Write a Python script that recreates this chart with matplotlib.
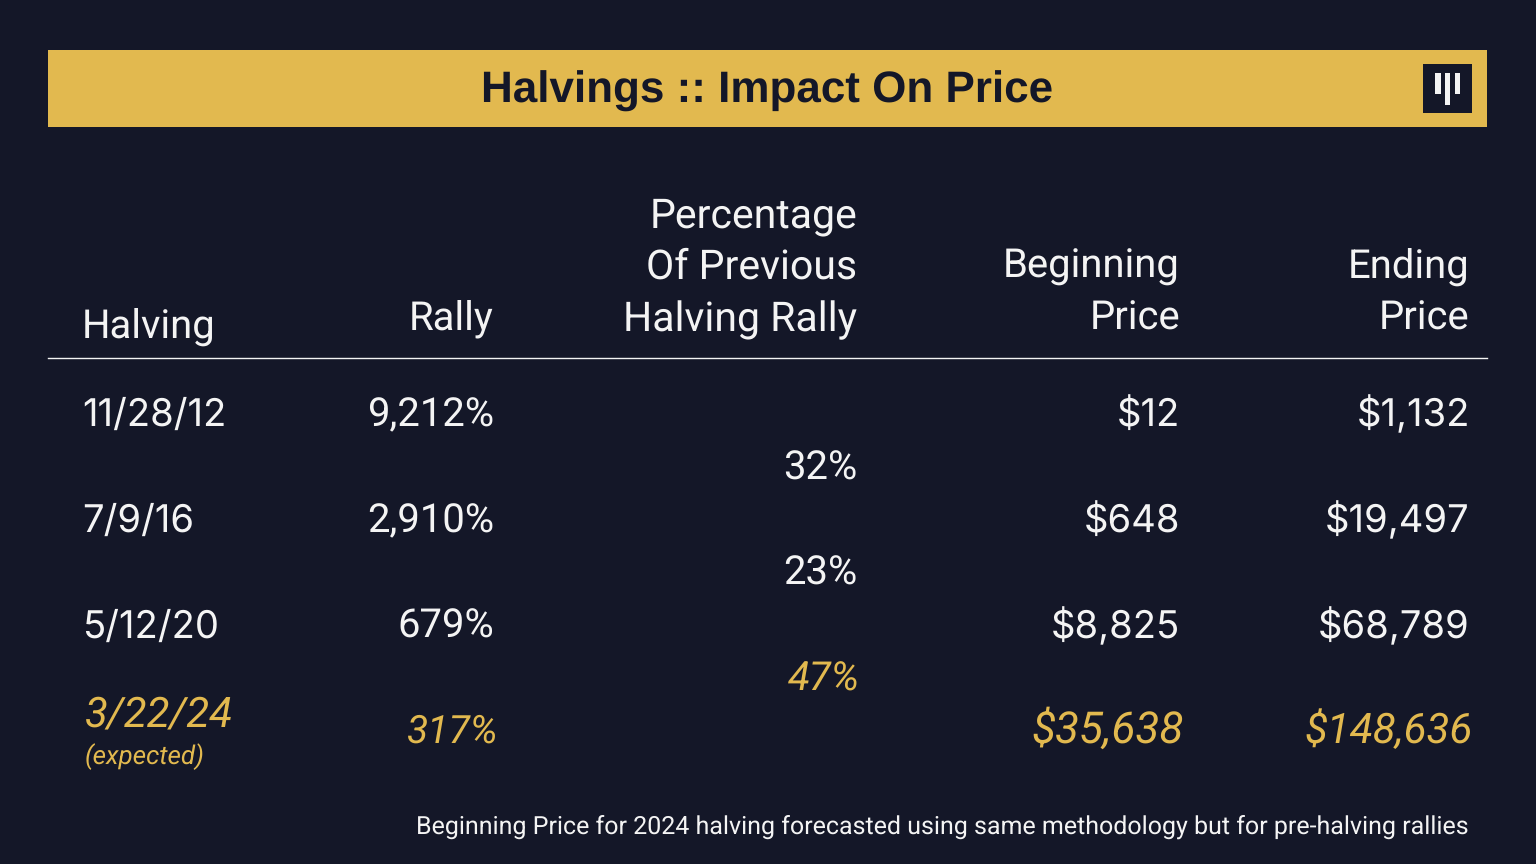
"""Halvings table: impact on price, drawn as text on a pixel-sized axes."""

import matplotlib.pyplot as plt
from matplotlib.patches import Rectangle

plt.rcParams["text.hinting"] = "no_hinting"
plt.rcParams["text.hinting_factor"] = 1

# 1. Table content

title = "Halvings :: Impact On Price"
headers = ["Halving", "Rally", "Percentage\nOf Previous\nHalving Rally", "Beginning\nPrice", "Ending\nPrice"]
dates = ["11/28/12", "7/9/16", "5/12/20"]
rallies = ["9,212%", "2,910%", "679%"]
previous_pct = ["32%", "23%"]
begin_prices = ["$12", "$648", "$8,825"]
end_prices = ["$1,132", "$19,497", "$68,789"]

expected_date = "3/22/24"
expected_note = "(expected)"
expected_rally = "317%"
expected_pct = "47%"
expected_begin = "$35,638"
expected_end = "$148,636"

footnote = "Beginning Price for 2024 halving forecasted using same methodology but for pre-halving rallies"

# 2. Layout and colours

BG = "#141728"
GOLD = "#e2b94f"
WHITE = "#f4f4f4"
FONT = "Roboto"
NUM_FONT = "Inter"
SIZE = 29
NUM_SIZE = 27.5
ITALIC_SIZE = 30.5

ROW_Y = [426, 532, 638]
PCT_Y = [480, 585]
COL_RALLY = 494
COL_PCT = 857
COL_BEGIN = 1180
COL_END = 1469

fig = plt.figure(figsize=(15.36, 8.64), dpi=100, facecolor=BG)
ax = fig.add_axes([0, 0, 1, 1])
ax.set_xlim(0, 1536)
ax.set_ylim(864, 0)
ax.axis("off")

# 3. Banner and logo

ax.add_patch(Rectangle((48, 50), 1439, 77, color=GOLD, lw=0))
ax.text(767, 103, title, color=BG, fontsize=31.6, family="Liberation Sans", weight="bold",
        ha="center", va="baseline")
ax.add_patch(Rectangle((1423, 64), 49, 49, color=BG, lw=0))
ax.add_patch(Rectangle((1435, 73), 6, 21, color=WHITE, lw=0))
ax.add_patch(Rectangle((1445, 73), 5, 32, color=WHITE, lw=0))
ax.add_patch(Rectangle((1455, 73), 5, 21, color=WHITE, lw=0))

# 4. Header row

ax.text(82, 338, headers[0], color=WHITE, fontsize=SIZE, family=FONT, ha="left", va="baseline")
ax.text(COL_RALLY, 329, headers[1], color=WHITE, fontsize=SIZE, family=FONT, ha="right", va="baseline")
for i, line in enumerate(headers[2].split("\n")):
    ax.text(COL_PCT, 227 + i * 52, line, color=WHITE, fontsize=SIZE + 0.2, family=FONT, ha="right", va="baseline")
for i, line in enumerate(headers[3].split("\n")):
    ax.text(COL_BEGIN, 278 + i * 52, line, color=WHITE, fontsize=SIZE, family=FONT, ha="right", va="baseline")
for i, line in enumerate(headers[4].split("\n")):
    ax.text(COL_END, 278 + i * 52, line, color=WHITE, fontsize=SIZE, family=FONT, ha="right", va="baseline")
ax.plot([48, 1487], [358, 358], color=WHITE, lw=1)

# 5. Rows

for y, date, rally, begin, end in zip(ROW_Y, dates, rallies, begin_prices, end_prices):
    ax.text(82, y, date, color=WHITE, fontsize=NUM_SIZE, family=NUM_FONT, ha="left", va="baseline")
    ax.text(COL_RALLY, y, rally, color=WHITE, fontsize=SIZE, family=FONT, ha="right", va="baseline")
    ax.text(COL_BEGIN, y, begin, color=WHITE, fontsize=NUM_SIZE, family=NUM_FONT, ha="right", va="baseline")
    ax.text(COL_END + 1, y, end, color=WHITE, fontsize=NUM_SIZE, family=NUM_FONT, ha="right", va="baseline")

for y, pct in zip(PCT_Y, previous_pct):
    ax.text(COL_PCT, y, pct, color=WHITE, fontsize=SIZE, family=FONT, ha="right", va="baseline")

# 6. Expected row

ax.text(85, 726, expected_date, color=GOLD, fontsize=ITALIC_SIZE, family=FONT, style="italic", ha="left", va="baseline")
ax.text(85, 764, expected_note, color=GOLD, fontsize=18.8, family=FONT, style="italic", ha="left", va="baseline")
ax.text(COL_RALLY + 4, 743, expected_rally, color=GOLD, fontsize=28, family=FONT, style="italic", ha="right", va="baseline")
ax.text(COL_PCT + 3, 691, expected_pct, color=GOLD, fontsize=SIZE, family=FONT, style="italic", ha="right", va="baseline")
ax.text(COL_BEGIN + 4, 743, expected_begin, color=GOLD, fontsize=32, family=FONT, style="italic", ha="right", va="baseline")
ax.text(COL_END + 4, 743, expected_end, color=GOLD, fontsize=ITALIC_SIZE, family=FONT, style="italic", ha="right", va="baseline")

# 7. Footnote

ax.text(1469, 834, footnote, color=WHITE, fontsize=18.1, family=FONT, ha="right", va="baseline")

fig.savefig("out.png", dpi=100, facecolor=BG)
